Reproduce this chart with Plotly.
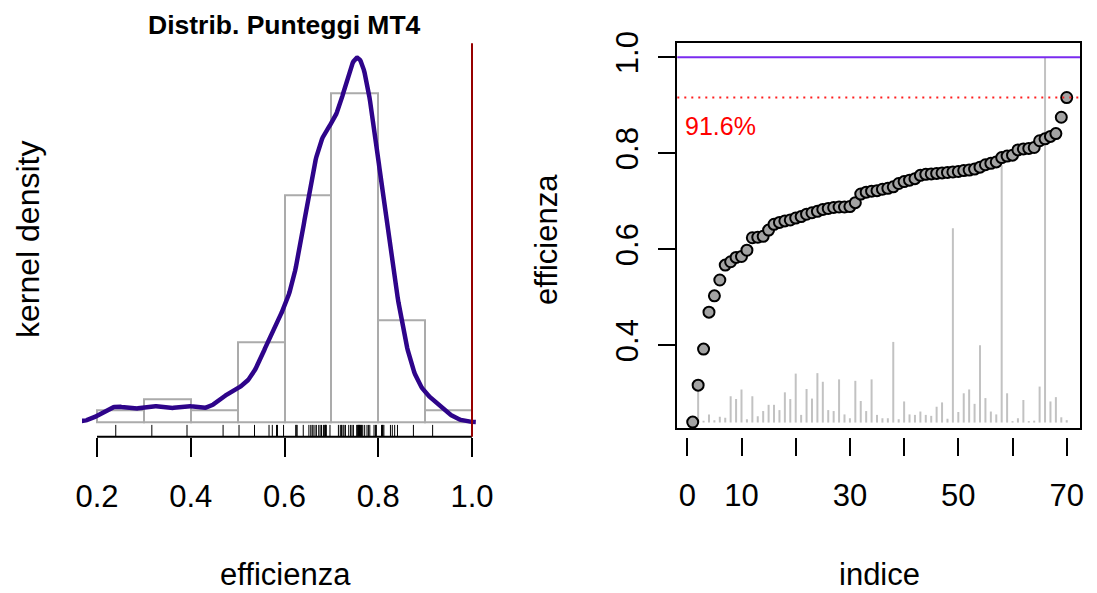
import numpy as np
import plotly.graph_objects as go

W, H = 1097, 593

# ---------------- data ----------------
eff = [0.240, 0.317, 0.392, 0.469, 0.503, 0.536, 0.567, 0.574, 0.583, 0.585,
       0.598, 0.624, 0.625, 0.627, 0.640, 0.652, 0.656, 0.659, 0.661, 0.665,
       0.668, 0.673, 0.676, 0.679, 0.683, 0.685, 0.687, 0.688, 0.688, 0.689,
       0.697, 0.715, 0.719, 0.721, 0.722, 0.725, 0.727, 0.730, 0.737, 0.741,
       0.744, 0.747, 0.754, 0.756, 0.757, 0.758, 0.759, 0.760, 0.761, 0.762,
       0.764, 0.765, 0.767, 0.771, 0.776, 0.779, 0.782, 0.791, 0.794, 0.796,
       0.807, 0.809, 0.810, 0.812, 0.826, 0.830, 0.835, 0.841, 0.875, 0.916]

peer_top = [0.240, 0.317, 0.243, 0.256, 0.244, 0.251, 0.249, 0.294, 0.288, 0.308,
            0.246, 0.294, 0.252, 0.263, 0.276, 0.276, 0.265, 0.302, 0.288, 0.341,
            0.255, 0.309, 0.289, 0.342, 0.324, 0.265, 0.263, 0.329, 0.256, 0.248,
            0.326, 0.284, 0.263, 0.329, 0.255, 0.248, 0.248, 0.407, 0.246, 0.283,
            0.256, 0.255, 0.262, 0.255, 0.253, 0.272, 0.281, 0.247, 0.644, 0.261,
            0.300, 0.308, 0.278, 0.400, 0.290, 0.262, 0.256, 0.775, 0.300, 0.242,
            0.248, 0.286, 0.242, 0.243, 0.314, 1.000, 0.283, 0.292, 0.250, 0.244]
peer_base = 0.239

hist_breaks = [0.2, 0.3, 0.4, 0.5, 0.6, 0.7, 0.8, 0.9, 1.0]
left_xticks = [0.2, 0.4, 0.6, 0.8, 1.0]
left_xticktext = ["0.2", "0.4", "0.6", "0.8", "1.0"]
right_xticks = [0, 10, 20, 30, 40, 50, 60, 70]
right_xticktext = ["0", "10", "", "30", "", "50", "", "70"]
right_yticks = [0.4, 0.6, 0.8, 1.0]
right_yticktext = ["0.4", "0.6", "0.8", "1.0"]
frontier = 1.0
title_text = "Distrib. Punteggi MT4"

FONT = "Liberation Sans, Arial, Helvetica, sans-serif"

def px(x):
    return x / W

def py(y):
    return 1 - y / H

# ---------------- derived ----------------
x = np.array(eff)
n = len(x)
sd = x.std(ddof=1)
q75, q25 = np.percentile(x, [75, 25])
bw = 0.9 * min(sd, (q75 - q25) / 1.34) * n ** -0.2
grid = np.linspace(x.min() - 3 * bw, x.max() + 3 * bw, 512)
dens = np.exp(-0.5 * ((grid[:, None] - x[None, :]) / bw) ** 2).sum(1) / (n * bw * np.sqrt(2 * np.pi))

counts, edges = np.histogram(x, bins=hist_breaks)
hdens = counts / (n * np.diff(edges))
centers = (edges[:-1] + edges[1:]) / 2

ytop = max(dens.max(), hdens.max())
yr_left = [-0.04 * ytop, 1.04 * ytop]
xr_left = [0.168, 1.032]
rug_y0 = yr_left[0]
rug_y1 = yr_left[0] + 0.03 * (yr_left[1] - yr_left[0])

best = x.max()
idx = list(range(1, n + 1))

fig = go.Figure()

# histogram outline
fig.add_trace(go.Bar(x=centers, y=hdens, width=np.diff(edges),
                     marker=dict(color="rgba(0,0,0,0)", line=dict(color="#ABABAB", width=2)),
                     xaxis="x", yaxis="y", showlegend=False, hoverinfo="skip"))
# density
fig.add_trace(go.Scatter(x=grid, y=dens, mode="lines",
                         line=dict(color="#2E048A", width=4.5),
                         xaxis="x", yaxis="y", showlegend=False))
# rug
rx, ry = [], []
for v in eff:
    rx += [v, v, None]
    ry += [rug_y0, rug_y1, None]
fig.add_trace(go.Scatter(x=rx, y=ry, mode="lines", line=dict(color="black", width=1),
                         xaxis="x", yaxis="y", showlegend=False))

# right: peer lines
lx, ly = [], []
for i, t in zip(idx, peer_top):
    lx += [i, i, None]
    ly += [peer_base, t, None]
fig.add_trace(go.Scatter(x=lx, y=ly, mode="lines", line=dict(color="#C2C2C2", width=2),
                         xaxis="x2", yaxis="y2", showlegend=False))
# points
fig.add_trace(go.Scatter(x=idx, y=eff, mode="markers",
                         marker=dict(size=11, color="#A3A3A3", line=dict(color="black", width=2)),
                         xaxis="x2", yaxis="y2", showlegend=False, cliponaxis=False))
# dummy for tick axis
fig.add_trace(go.Scatter(x=[0], y=[0.5], mode="markers", marker=dict(opacity=0),
                         xaxis="x3", yaxis="y2", showlegend=False, hoverinfo="skip"))

tickfont = dict(family=FONT, size=31, color="black")

fig.update_layout(
    width=W, height=H, margin=dict(l=0, r=0, t=0, b=0, autoexpand=False),
    paper_bgcolor="white", plot_bgcolor="rgba(0,0,0,0)",
    font=dict(family=FONT, color="black"),
    bargap=0,
    xaxis=dict(domain=[px(82), px(487)], range=xr_left, anchor="y",
               tickvals=left_xticks, ticktext=left_xticktext, ticks="outside",
               ticklen=19, tickwidth=2, tickcolor="black", tickfont=tickfont,
               showline=False, showgrid=False, zeroline=False, ticklabelstandoff=13,
               automargin=False),
    yaxis=dict(domain=[py(436.7), py(43.3)], range=yr_left, anchor="x",
               showticklabels=False, ticks="", showline=False, showgrid=False, zeroline=False,
               automargin=False),
    xaxis2=dict(domain=[px(677.3), px(1080)], range=[-1.845, 72.45], anchor="y2",
                showline=True, mirror=True, linecolor="black", linewidth=2,
                ticks="", showticklabels=False, showgrid=False, zeroline=False,
                automargin=False),
    xaxis3=dict(domain=[px(677.3), px(1080)], range=[-1.845, 72.45], overlaying="x2",
                anchor="free", position=py(437),
                tickvals=right_xticks, ticktext=right_xticktext, ticks="outside",
                ticklen=18, tickwidth=2, tickcolor="black", tickfont=tickfont,
                showline=False, showgrid=False, zeroline=False, ticklabelstandoff=13,
                automargin=False),
    yaxis2=dict(domain=[py(428), py(43.3)], range=[0.2277, 1.029], anchor="x2",
                showline=True, mirror=True, linecolor="black", linewidth=2,
                tickvals=right_yticks, ticktext=right_yticktext, ticks="outside",
                ticklen=17, tickwidth=2, tickcolor="black", tickfont=tickfont,
                tickangle=-90, showgrid=False, zeroline=False, ticklabelstandoff=8,
                automargin=False),
)

shapes = [
    # left x axis line from first to last tick
    dict(type="line", xref="x", yref="paper", x0=left_xticks[0], x1=left_xticks[-1],
         y0=py(436.7), y1=py(436.7), line=dict(color="black", width=2)),
    # frontier at 1.0 (left)
    dict(type="line", xref="x", yref="y domain", x0=frontier, x1=frontier, y0=0, y1=1,
         line=dict(color="#960000", width=2)),
    # frontier at 1.0 (right)
    dict(type="line", xref="x2 domain", yref="y2", x0=0, x1=1, y0=frontier, y1=frontier,
         line=dict(color="#7A2BEF", width=2)),
    # best efficiency dotted
    dict(type="line", xref="x2 domain", yref="y2", x0=0, x1=1, y0=best, y1=best,
         line=dict(color="#FF2020", width=2, dash="2px,5px")),
]
fig.update_layout(shapes=shapes)

annotations = [
    dict(text=f"<b>{title_text}</b>", xref="paper", yref="paper", x=px(284.5), y=py(25),
         showarrow=False, font=dict(family=FONT, size=26.5, color="black"),
         xanchor="center", yanchor="middle"),
    dict(text="efficienza", xref="paper", yref="paper", x=px(285), y=py(574),
         showarrow=False, font=dict(family=FONT, size=31), xanchor="center", yanchor="middle"),
    dict(text="kernel density", xref="paper", yref="paper", x=px(28), y=py(240),
         showarrow=False, font=dict(family=FONT, size=32), textangle=-90,
         xanchor="center", yanchor="middle"),
    dict(text="indice", xref="paper", yref="paper", x=px(879), y=py(574),
         showarrow=False, font=dict(family=FONT, size=31), xanchor="center", yanchor="middle"),
    dict(text="efficienza", xref="paper", yref="paper", x=px(546), y=py(240),
         showarrow=False, font=dict(family=FONT, size=31), textangle=-90,
         xanchor="center", yanchor="middle"),
    dict(text=f"{best * 100:.1f}%", xref="x2", yref="y2", x=-0.8, y=0.857,
         showarrow=False, font=dict(family=FONT, size=25, color="#FF0000"),
         xanchor="left", yanchor="middle"),
]
fig.update_layout(annotations=annotations)

fig.write_html("out.html")
